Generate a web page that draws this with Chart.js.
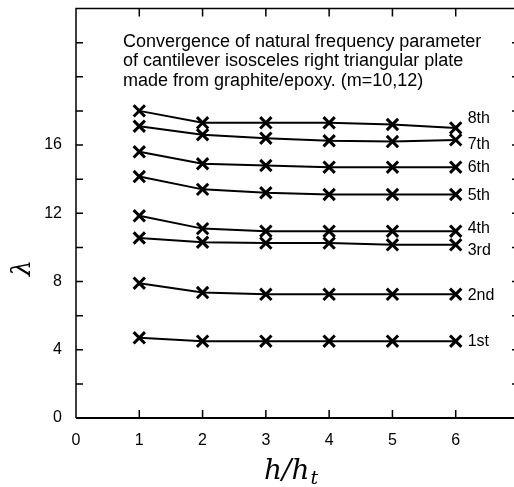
<!DOCTYPE html>
<html>
<head>
<meta charset="utf-8">
<script src="https://cdn.jsdelivr.net/npm/chart.js@4/dist/chart.umd.min.js"></script>
<style>
  html, body { margin: 0; padding: 0; background: #fff; overflow: hidden; width: 514px; height: 487px; }
  #wrap { position: absolute; left: 0; top: 0; width: 522px; height: 487px; }
</style>
</head>
<body>
<div id="wrap"><canvas id="c" width="522" height="487"></canvas></div>
<script>
// ---- data ----
const xValues = [1, 2, 3, 4, 5, 6];
const mode1 = [4.7, 4.5, 4.5, 4.5, 4.5, 4.5];
const mode2 = [7.9, 7.35, 7.25, 7.25, 7.25, 7.25];
const mode3 = [10.55, 10.3, 10.25, 10.25, 10.15, 10.15];
const mode4 = [11.85, 11.1, 10.95, 10.95, 10.95, 10.95];
const mode5 = [14.15, 13.4, 13.2, 13.1, 13.1, 13.1];
const mode6 = [15.6, 14.9, 14.8, 14.7, 14.7, 14.7];
const mode7 = [17.1, 16.6, 16.4, 16.25, 16.2, 16.3];
const mode8 = [18.0, 17.3, 17.3, 17.3, 17.2, 17.0];
const modeNames = ['1st', '2nd', '3rd', '4th', '5th', '6th', '7th', '8th'];
const xTickLabels = ['0', '1', '2', '3', '4', '5', '6'];
const yTickLabels = ['0', '4', '8', '12', '16'];
const noteLines = [
  'Convergence of natural frequency parameter',
  'of cantilever isosceles right triangular plate',
  'made from graphite/epoxy. (m=10,12)'
];
const yTitle = 'λ';
const xTitleMain = 'h/h';
const xTitleSub = 't';

const allModes = [mode1, mode2, mode3, mode4, mode5, mode6, mode7, mode8];
// label vertical nudges (pixels) to avoid overlap
const labelNudge = [0, 1, 6, -3, 1, 0, 5, -9];

const datasets = allModes.map((m, i) => ({
  label: modeNames[i],
  data: xValues.map((x, j) => ({ x: x, y: m[j] })),
  borderColor: '#000',
  backgroundColor: '#000',
  borderWidth: 2,
  pointStyle: 'crossRot',
  pointRadius: 8,
  pointBorderWidth: 3,
  pointBorderColor: '#000',
  tension: 0,
  clip: false
}));

const SANS = '"Liberation Sans", Arial, Helvetica, sans-serif';
const SERIF = '"DejaVu Serif", "Liberation Serif", serif';

const framePlugin = {
  id: 'frame',
  afterDraw(chart) {
    const ctx = chart.ctx;
    const xs = chart.scales.x, ys = chart.scales.y;
    const L = xs.left, R = xs.right, T = ys.top, B = ys.bottom;
    ctx.save();
    ctx.strokeStyle = '#000';
    // frame
    ctx.lineWidth = 1.5;
    ctx.beginPath();
    ctx.moveTo(L, B); ctx.lineTo(L, T); ctx.lineTo(R, T); ctx.lineTo(R, B);
    ctx.stroke();
    ctx.lineWidth = 2.2;
    ctx.beginPath();
    ctx.moveTo(L, B); ctx.lineTo(R, B);
    ctx.stroke();
    // inward ticks
    ctx.lineWidth = 1.5;
    ctx.beginPath();
    for (let v = 1; v <= 6; v++) {
      const px = xs.getPixelForValue(v);
      ctx.moveTo(px, B); ctx.lineTo(px, B - 8);
      ctx.moveTo(px, T); ctx.lineTo(px, T + 8);
    }
    for (let v = 2; v <= 22; v += 2) {
      const py = ys.getPixelForValue(v);
      ctx.moveTo(L, py); ctx.lineTo(L + 7, py);
      ctx.moveTo(R, py); ctx.lineTo(R - 7, py);
    }
    ctx.stroke();
    // mode labels
    ctx.fillStyle = '#000';
    ctx.font = '16px ' + SANS;
    ctx.textAlign = 'left';
    ctx.textBaseline = 'middle';
    allModes.forEach((m, i) => {
      const last = m[m.length - 1];
      const px = xs.getPixelForValue(xValues[xValues.length - 1]) + 12;
      const py = ys.getPixelForValue(last) + labelNudge[i];
      ctx.fillText(modeNames[i], px, py);
    });
    // note text
    ctx.font = '18px ' + SANS;
    noteLines.forEach((t, i) => {
      ctx.fillText(t, 123, 42 + i * 19.5);
    });
    // x title with subscript
    ctx.textBaseline = 'alphabetic';
    ctx.font = 'italic 28px ' + SERIF;
    const wMain = ctx.measureText(xTitleMain).width;
    ctx.font = 'italic 19px ' + SERIF;
    const wSub = ctx.measureText(xTitleSub).width;
    const cx = (L + R) / 2 - 7;
    const x0 = cx - (wMain + wSub) / 2;
    ctx.font = 'italic 28px ' + SERIF;
    ctx.fillText(xTitleMain, x0, 479);
    ctx.font = 'italic 19px ' + SERIF;
    ctx.fillText(xTitleSub, x0 + wMain + 1, 484);
    // y title
    ctx.textBaseline = 'middle';
    ctx.translate(23, 268);
    ctx.rotate(-Math.PI / 2);
    ctx.textAlign = 'center';
    ctx.font = 'italic 26px ' + SERIF;
    ctx.fillText(yTitle, 0, 0);
    ctx.restore();
  }
};

new Chart(document.getElementById('c'), {
  type: 'line',
  data: { datasets: datasets },
  options: {
    responsive: false,
    animation: false,
    events: [],
    layout: { autoPadding: false, padding: { top: 8.5, right: 3, left: 0, bottom: 0 } },
    plugins: { legend: { display: false }, tooltip: { enabled: false }, title: { display: false } },
    scales: {
      x: {
        type: 'linear',
        min: 0, max: 7,
        grid: { display: false },
        border: { display: false },
        ticks: {
          stepSize: 1,
          color: '#000',
          font: { family: SANS, size: 16 },
          padding: 5,
          maxRotation: 0,
          callback: (v) => (v < xTickLabels.length ? xTickLabels[v] : '')
        },
        title: { display: false },
        afterFit: (s) => { s.height = 69; s.paddingLeft = 0; s.paddingRight = 0; }
      },
      y: {
        type: 'linear',
        min: 0, max: 24,
        grid: { display: false },
        border: { display: false },
        ticks: {
          stepSize: 4,
          color: '#000',
          font: { family: SANS, size: 16 },
          padding: 6,
          callback: (v) => {
            const i = v / 4;
            return i < yTickLabels.length ? yTickLabels[i] : '';
          }
        },
        afterFit: (s) => { s.width = 76; s.paddingTop = 0; s.paddingBottom = 0; }
      }
    }
  },
  plugins: [framePlugin]
});
</script>
</body>
</html>
